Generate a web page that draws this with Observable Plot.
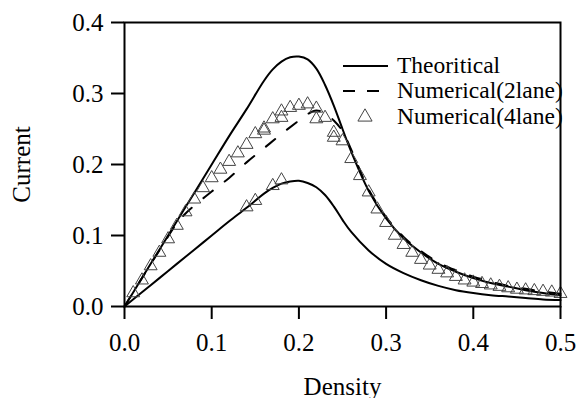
<!DOCTYPE html>
<html><head><meta charset="utf-8">
<script src="https://cdn.jsdelivr.net/npm/d3@7"></script>
<script src="https://cdn.jsdelivr.net/npm/@observablehq/plot@0.6"></script>
<style>body{margin:0;background:#fff}#chart{width:578px;height:398px}</style>
</head><body><div id="chart"></div>
<script>
// Theoretical curves (upper and lower branch)
const densityTheory = [0,0.02,0.04,0.06,0.08,0.10,0.12,0.14,0.16,0.17,0.18,0.19,0.20,0.21,0.22,0.23,0.24,0.25,0.26,0.28,0.30,0.32,0.34,0.36,0.38,0.40,0.42,0.44,0.46,0.48,0.50];
const currentUpper = [0,0.040,0.080,0.120,0.160,0.200,0.240,0.278,0.318,0.334,0.345,0.351,0.352,0.348,0.335,0.312,0.283,0.250,0.218,0.163,0.124,0.096,0.076,0.060,0.049,0.040,0.033,0.028,0.023,0.019,0.016];
const currentLower = [0,0.020,0.040,0.060,0.080,0.100,0.120,0.139,0.159,0.167,0.173,0.176,0.177,0.174,0.168,0.157,0.141,0.122,0.105,0.079,0.060,0.047,0.037,0.029,0.023,0.019,0.016,0.014,0.012,0.010,0.009];
// Numerical (2 lane), dashed
const density2lane = [0,0.02,0.04,0.06,0.07,0.08,0.10,0.12,0.14,0.16,0.18,0.20,0.21,0.22,0.23,0.24,0.25,0.26,0.28,0.30,0.32,0.34,0.36,0.38,0.40,0.42,0.44,0.46,0.48,0.50];
const current2lane = [0,0.040,0.079,0.117,0.131,0.142,0.162,0.181,0.203,0.223,0.243,0.262,0.271,0.276,0.272,0.262,0.247,0.221,0.165,0.126,0.098,0.078,0.062,0.051,0.042,0.035,0.029,0.025,0.021,0.018];
// Numerical (4 lane), triangles
const density4lane = [0.01,0.02,0.03,0.04,0.05,0.06,0.07,0.08,0.09,0.10,0.11,0.12,0.13,0.14,0.14,0.15,0.15,0.16,0.16,0.17,0.17,0.18,0.18,0.18,0.19,0.20,0.21,0.22,0.22,0.23,0.24,0.24,0.25,0.26,0.27,0.28,0.29,0.30,0.31,0.32,0.33,0.34,0.35,0.36,0.37,0.38,0.39,0.40,0.41,0.42,0.43,0.44,0.45,0.46,0.47,0.48,0.49,0.50];
const current4lane = [0.019,0.037,0.057,0.076,0.095,0.114,0.133,0.151,0.167,0.181,0.193,0.204,0.216,0.228,0.140,0.243,0.149,0.248,0.251,0.264,0.170,0.266,0.275,0.178,0.280,0.283,0.285,0.279,0.264,0.266,0.245,0.238,0.233,0.208,0.184,0.161,0.137,0.118,0.100,0.087,0.076,0.066,0.058,0.052,0.047,0.042,0.037,0.034,0.032,0.030,0.028,0.026,0.024,0.023,0.022,0.021,0.020,0.018];
const xTicks = [0,0.1,0.2,0.3,0.4,0.5];
const yTicks = [0,0.1,0.2,0.3,0.4];
const xLabel = "Density";
const yLabel = "Current";
const legendLabels = ["Theoritical","Numerical(2lane)","Numerical(4lane)"];

const upper = densityTheory.map((d,i)=>({x:d,y:currentUpper[i]}));
const lower = densityTheory.map((d,i)=>({x:d,y:currentLower[i]}));
const twoLane = density2lane.map((d,i)=>({x:d,y:current2lane[i]}));
const fourLane = density4lane.map((d,i)=>({x:d,y:current4lane[i]}));

const font = "'Liberation Serif', 'Times New Roman', serif";
const plot = Plot.plot({
  width: 578, height: 398,
  marginLeft: 124, marginRight: 18, marginTop: 22, marginBottom: 92,
  style: {fontFamily: font, fontSize: "25px", color: "#000", background: "#fff"},
  x: {domain: [0,0.5]},
  y: {domain: [0,0.4]},
  marks: [
    Plot.axisX({ticks: xTicks, tickFormat: d3.format(".1f"), tickSize: 13, tickPadding: 14, strokeWidth: 2,
      fontFamily: font, fontSize: 25,
      label: xLabel, labelAnchor: "center", labelArrow: "none", labelOffset: 88}),
    Plot.axisY({ticks: yTicks, tickFormat: d3.format(".1f"), tickSize: 13, tickPadding: 8, strokeWidth: 2,
      fontFamily: font, fontSize: 25,
      label: yLabel, labelAnchor: "center", labelArrow: "none", labelOffset: 112}),
    Plot.line(upper, {x:"x", y:"y", curve:"catmull-rom", stroke:"#000", strokeWidth:2}),
    Plot.line(lower, {x:"x", y:"y", curve:"catmull-rom", stroke:"#000", strokeWidth:2}),
    Plot.line(twoLane, {x:"x", y:"y", curve:"catmull-rom", stroke:"#000", strokeWidth:2, strokeDasharray:"12,15"}),
    Plot.dot(fourLane, {x:"x", y:"y", symbol:"triangle", r:4.8, stroke:"#444", strokeWidth:1, fill:"none"}),
    Plot.frame({stroke:"#000", strokeWidth:2})
  ]
});
document.getElementById("chart").appendChild(plot);

// legend
const svg = d3.select(plot);
const lg = svg.append("g").attr("font-family", font).attr("font-size", 23.5).attr("fill","#000").attr("text-anchor","start");
const rowY = [66, 91, 117];
legendLabels.forEach((t,i)=>{
  const y = rowY[i];
  if (i === 0) lg.append("line").attr("x1",343).attr("x2",388).attr("y1",y).attr("y2",y).attr("stroke","#000").attr("stroke-width",2);
  if (i === 1) lg.append("line").attr("x1",343).attr("x2",390).attr("y1",y).attr("y2",y).attr("stroke","#000").attr("stroke-width",2).attr("stroke-dasharray","12,12");
  if (i === 2) lg.append("path").attr("d", d3.symbol(d3.symbolTriangle, 4.8*4.8*Math.PI*1.2)()).attr("transform",`translate(365,${y})`).attr("fill","none").attr("stroke","#444");
  lg.append("text").attr("x",397).attr("y",y+7).attr("text-anchor","start").text(t);
});
</script>
</body></html>
